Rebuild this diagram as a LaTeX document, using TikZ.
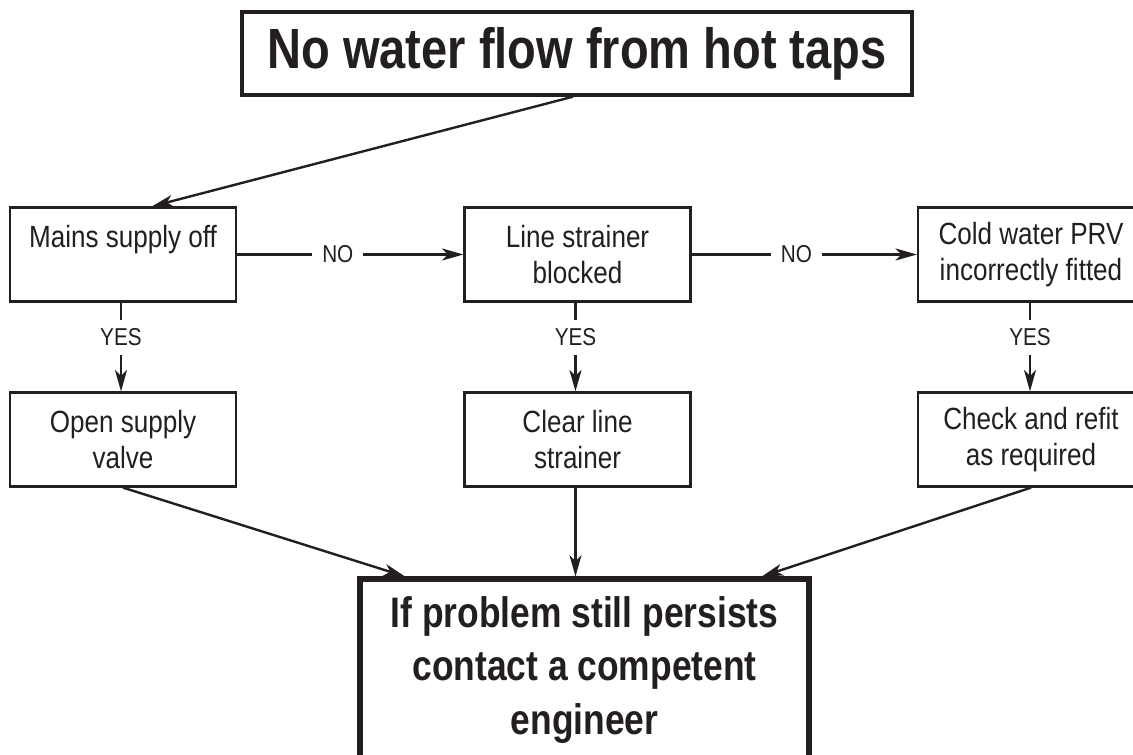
\documentclass[tikz,border=0pt]{standalone}
\usepackage{fontspec}
\setmainfont[FakeStretch=0.85]{Liberation Sans}
\newfontfamily\condfont[FakeStretch=0.83]{Liberation Sans}
\usetikzlibrary{arrows.meta,calc}
\definecolor{ink}{HTML}{231F20}
\tikzset{
  box/.style={draw=ink, line width=1.7pt, text=ink, align=center,
    minimum width=169.5pt, minimum height=70.5pt, inner sep=0pt,
    font=\fontsize{23pt}{27pt}\selectfont},
  titlebox/.style={draw=ink, line width=2.8pt, text=ink, align=center,
    minimum width=502.5pt, minimum height=62pt, inner sep=0pt,
    font=\condfont\bfseries\fontsize{42.5pt}{50pt}\selectfont},
  endbox/.style={draw=ink, line width=3.8pt, text=ink, align=center,
    minimum width=336.75pt, minimum height=136.5pt, inner sep=0pt,
    font=\condfont\bfseries\fontsize{32pt}{40pt}\selectfont},
  conn/.style={draw=ink, line width=1.8pt,
    -{Stealth[length=16pt, width=9pt, inset=4.5pt]}},
  lbl/.style={fill=white, text=ink, inner xsep=7.5pt, inner ysep=6.5pt,
    font=\fontsize{18.3pt}{21pt}\selectfont}
}
\begin{document}
\begin{tikzpicture}[x=0.75pt, y=-0.75pt]
\useasboundingbox (0,0) rectangle (1133,755);
\fill[white] (0,0) rectangle (1133,755);

\node[titlebox] (title) at (577,53.5) {No water flow from hot taps};

\node[box] (mains) at (123,254.5) {Mains supply off\\\mbox{}};
\node[box] (strainer) at (577.5,254.5) {Line strainer\\blocked};
\node[box] (prv) at (1031,254.5) {Cold water PRV\\incorrectly fitted};

\node[box] (open) at (123,439.5) {Open supply\\valve};
\node[box] (clear) at (577.5,439.5) {Clear line\\strainer};
\node[box] (check) at (1031,439.5) {Check and refit\\as required};

\node[endbox] (final) at (584.5,670) {If problem still persists\\contact a competent\\engineer};

\draw[conn] ([xshift=-3pt]title.south) -- ([xshift=21.75pt]mains.north);

\draw[conn] (mains.east) -- node[lbl, pos=0.445] {NO} (strainer.west);
\draw[conn] (strainer.east) -- node[lbl, pos=0.465] {NO} (prv.west);

\draw[conn] ([xshift=-1.5pt]mains.south) -- node[lbl, pos=0.39] {YES} ([xshift=-1.5pt]open.north);
\draw[conn] ([xshift=-1.5pt]strainer.south) -- node[lbl, pos=0.39] {YES} ([xshift=-1.5pt]clear.north);
\draw[conn] ([xshift=-0.75pt]prv.south) -- node[lbl, pos=0.39] {YES} ([xshift=-0.75pt]check.north);

\draw[conn] (open.south) -- ([xshift=-134.6pt]final.north);
\draw[conn] ([xshift=-1.5pt]clear.south) -- ([xshift=-1.5pt]clear.south |- final.north);
\draw[conn] (check.south) -- ([xshift=133pt]final.north);
\end{tikzpicture}
\end{document}
